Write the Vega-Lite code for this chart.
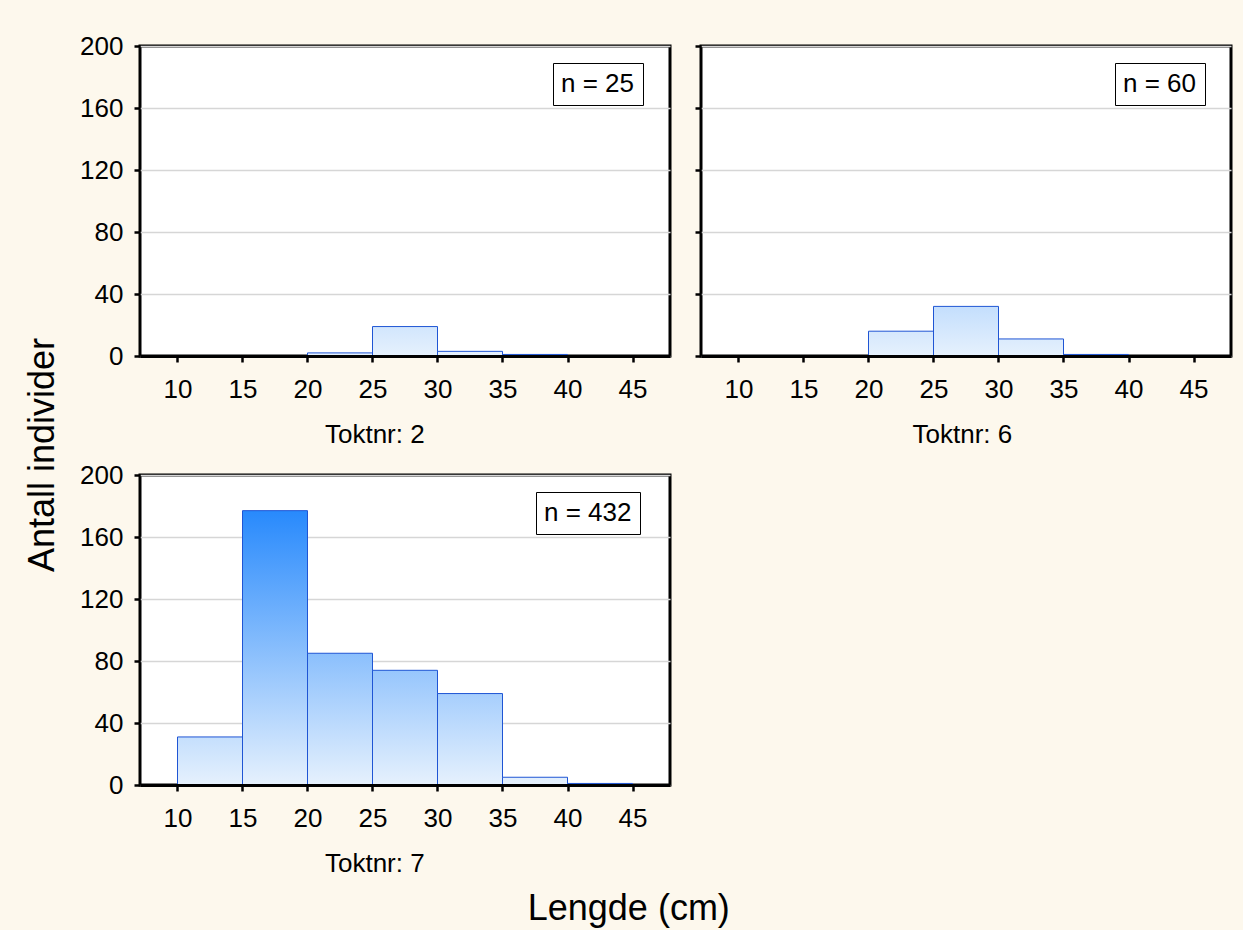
{
  "$schema": "https://vega.github.io/schema/vega-lite/v6.json",
  "background": "#fdf8ed",
  "padding": {"left": 25, "top": 31, "right": 10, "bottom": 6},
  "data": {"values": [
    {"tokt": 2, "lo": 20, "hi": 25, "count": 2, "nlab": "n = 25"},
    {"tokt": 2, "lo": 25, "hi": 30, "count": 19, "nlab": "n = 25"},
    {"tokt": 2, "lo": 30, "hi": 35, "count": 3, "nlab": "n = 25"},
    {"tokt": 2, "lo": 35, "hi": 40, "count": 1, "nlab": "n = 25"},
    {"tokt": 6, "lo": 20, "hi": 25, "count": 16, "nlab": "n = 60"},
    {"tokt": 6, "lo": 25, "hi": 30, "count": 32, "nlab": "n = 60"},
    {"tokt": 6, "lo": 30, "hi": 35, "count": 11, "nlab": "n = 60"},
    {"tokt": 6, "lo": 35, "hi": 40, "count": 1, "nlab": "n = 60"},
    {"tokt": 7, "lo": 10, "hi": 15, "count": 31, "nlab": "n = 432"},
    {"tokt": 7, "lo": 15, "hi": 20, "count": 177, "nlab": "n = 432"},
    {"tokt": 7, "lo": 20, "hi": 25, "count": 85, "nlab": "n = 432"},
    {"tokt": 7, "lo": 25, "hi": 30, "count": 74, "nlab": "n = 432"},
    {"tokt": 7, "lo": 30, "hi": 35, "count": 59, "nlab": "n = 432"},
    {"tokt": 7, "lo": 35, "hi": 40, "count": 5, "nlab": "n = 432"},
    {"tokt": 7, "lo": 40, "hi": 45, "count": 1, "nlab": "n = 432"}
  ]},
  "title": {"text": "Lengde (cm)", "orient": "bottom", "anchor": "middle", "fontSize": 36, "offset": 13},
  "resolve": {"scale": {"shape": "independent", "x": "independent", "y": "independent"}, "legend": {"shape": "independent"}},
  "vconcat": [
    {
      "title": {"text": "Antall individer", "orient": "left", "anchor": "middle", "fontSize": 36, "offset": 16},
      "spacing": 10,
      "resolve": {"scale": {"shape": "independent", "x": "independent", "y": "independent"}, "legend": {"shape": "independent"}},
      "vconcat": [
        {
          "spacing": 20,
          "resolve": {"scale": {"shape": "independent", "x": "independent", "y": "independent"}, "legend": {"shape": "independent"}},
          "hconcat": [
            {
              "width": 530, "height": 310,
              "title": {"text": "Toktnr: 2", "orient": "bottom", "anchor": "middle", "frame": "bounds", "offset": 20},
              "transform": [{"filter": "datum.tokt == 2"}],
              "layer": [
                {
                  "mark": {"type": "bar", "orient": "vertical", "stroke": "#1f55d4", "strokeWidth": 1, "fill": {"expr": "{'gradient': 'linear', 'x1': 0, 'y1': 1 - 200 / datum.count, 'x2': 0, 'y2': 1, 'stops': [{'offset': 0, 'color': '#0f7cfc'}, {'offset': 1, 'color': '#e6f1fd'}]}"}},
                  "encoding": {
                    "x": {"field": "lo", "type": "quantitative", "scale": {"domain": [7.5, 47.5], "nice": false, "zero": false}, "axis": {"values": [10, 15, 20, 25, 30, 35, 40, 45], "grid": false, "domain": true, "zindex": 1, "labelPadding": 14}},
                    "x2": {"field": "hi"},
                    "y": {"field": "count", "type": "quantitative", "scale": {"domain": [0, 200], "nice": false}, "axis": {"values": [0, 40, 80, 120, 160, 200], "grid": true, "domain": false, "zindex": 0, "labelPadding": 11}},
                    "y2": {"datum": 0}
                  }
                },
                {
                  "mark": {"type": "point", "size": 0, "opacity": 0},
                  "encoding": {
                    "x": {"field": "lo", "type": "quantitative"},
                    "y": {"field": "count", "type": "quantitative"},
                    "shape": {"field": "nlab", "type": "nominal", "legend": {"title": null, "orient": "none", "legendX": 413, "legendY": 17, "strokeColor": "black", "fillColor": "white", "padding": 8, "labelFontSize": 26, "labelColor": "black", "symbolSize": 1, "symbolOpacity": 0, "symbolStrokeWidth": 0, "labelOffset": -26}}
                  }
                }
              ]
            },
            {
              "width": 530, "height": 310,
              "title": {"text": "Toktnr: 6", "orient": "bottom", "anchor": "middle", "frame": "bounds", "offset": 20},
              "transform": [{"filter": "datum.tokt == 6"}],
              "layer": [
                {
                  "mark": {"type": "bar", "orient": "vertical", "stroke": "#1f55d4", "strokeWidth": 1, "fill": {"expr": "{'gradient': 'linear', 'x1': 0, 'y1': 1 - 200 / datum.count, 'x2': 0, 'y2': 1, 'stops': [{'offset': 0, 'color': '#0f7cfc'}, {'offset': 1, 'color': '#e6f1fd'}]}"}},
                  "encoding": {
                    "x": {"field": "lo", "type": "quantitative", "scale": {"domain": [7.5, 47.5], "nice": false, "zero": false}, "axis": {"values": [10, 15, 20, 25, 30, 35, 40, 45], "grid": false, "domain": true, "zindex": 1, "labelPadding": 14}},
                    "x2": {"field": "hi"},
                    "y": {"field": "count", "type": "quantitative", "scale": {"domain": [0, 200], "nice": false}, "axis": {"values": [0, 40, 80, 120, 160, 200], "grid": true, "domain": false, "labels": false, "zindex": 0}},
                    "y2": {"datum": 0}
                  }
                },
                {
                  "mark": {"type": "point", "size": 0, "opacity": 0},
                  "encoding": {
                    "x": {"field": "lo", "type": "quantitative"},
                    "y": {"field": "count", "type": "quantitative"},
                    "shape": {"field": "nlab", "type": "nominal", "legend": {"title": null, "orient": "none", "legendX": 414, "legendY": 17, "strokeColor": "black", "fillColor": "white", "padding": 8, "labelFontSize": 26, "labelColor": "black", "symbolSize": 1, "symbolOpacity": 0, "symbolStrokeWidth": 0, "labelOffset": -26}}
                  }
                }
              ]
            }
          ]
        },
        {
          "width": 530, "height": 310,
          "title": {"text": "Toktnr: 7", "orient": "bottom", "anchor": "middle", "frame": "bounds", "offset": 20},
          "transform": [{"filter": "datum.tokt == 7"}],
          "layer": [
            {
              "mark": {"type": "bar", "orient": "vertical", "stroke": "#1f55d4", "strokeWidth": 1, "fill": {"expr": "{'gradient': 'linear', 'x1': 0, 'y1': 1 - 200 / datum.count, 'x2': 0, 'y2': 1, 'stops': [{'offset': 0, 'color': '#0f7cfc'}, {'offset': 1, 'color': '#e6f1fd'}]}"}},
              "encoding": {
                "x": {"field": "lo", "type": "quantitative", "scale": {"domain": [7.5, 47.5], "nice": false, "zero": false}, "axis": {"values": [10, 15, 20, 25, 30, 35, 40, 45], "grid": false, "domain": true, "zindex": 1, "labelPadding": 14}},
                "x2": {"field": "hi"},
                "y": {"field": "count", "type": "quantitative", "scale": {"domain": [0, 200], "nice": false}, "axis": {"values": [0, 40, 80, 120, 160, 200], "grid": true, "domain": false, "zindex": 0, "labelPadding": 11}},
                "y2": {"datum": 0}
              }
            },
            {
              "mark": {"type": "point", "size": 0, "opacity": 0},
              "encoding": {
                "x": {"field": "lo", "type": "quantitative"},
                "y": {"field": "count", "type": "quantitative"},
                "shape": {"field": "nlab", "type": "nominal", "legend": {"title": null, "orient": "none", "legendX": 396, "legendY": 17, "strokeColor": "black", "fillColor": "white", "padding": 8, "labelFontSize": 26, "labelColor": "black", "symbolSize": 1, "symbolOpacity": 0, "symbolStrokeWidth": 0, "labelOffset": -26}}
              }
            }
          ]
        }
      ]
    }
  ],
  "config": {
    "font": "Liberation Sans",
    "view": {"stroke": "black", "strokeWidth": 3, "fill": "white"},
    "axis": {"title": null, "labelFont": "Liberation Sans", "labelFontSize": 26, "labelColor": "black", "tickColor": "black", "tickWidth": 2.5, "tickSize": 6, "domainColor": "black", "domainWidth": 3, "gridColor": "#d6d6d6", "gridWidth": 1.5},
    "title": {"font": "Liberation Sans", "fontSize": 26, "fontWeight": "normal", "color": "black"},
    "legend": {"labelFont": "Liberation Sans"}
  }
}
